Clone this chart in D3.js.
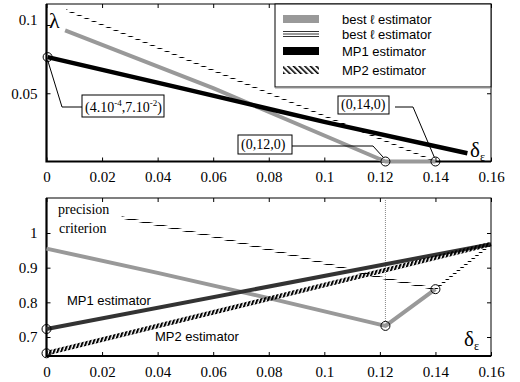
<!DOCTYPE html>
<meta charset="utf-8">
<style>
body { margin: 0; background: #fff; }
.lab { font-family: "Liberation Sans", Arial, sans-serif; font-size: 13px; }
.ser { font-family: "Liberation Serif", serif; }
</style>
<svg width="520" height="382"></svg>
<script src="https://cdn.jsdelivr.net/npm/d3@7/dist/d3.min.js"></script>
<script>

// x values are delta_epsilon
var xTicks = [0, 0.02, 0.04, 0.06, 0.08, 0.1, 0.12, 0.14, 0.16];
var topTicks = [0.05, 0.1];
var botTicks = [0.7, 0.8, 0.9, 1];

// top panel (lambda)
var topBestL1 = [[0.0067, 0.096], [0.06, 0.0537], [0.122, 0], [0.14, 0]];
var topBestL2 = [[0.007, 0.111], [0.14, 0]];
var topMP1 = [[0.0004, 0.0765], [0.05, 0.053], [0.1, 0.029], [0.1515, 0.006]];
var topMarks = [[0.0004, 0.0765], [0.122, 0], [0.14, 0]];

// bottom panel (precision criterion)
var botBestL1 = [[0, 0.955], [0.04, 0.885], [0.08, 0.812], [0.122, 0.732], [0.14, 0.838]];
var botBestL2 = [[0.027, 1.045], [0.06, 0.99], [0.09, 0.933], [0.12, 0.872], [0.14, 0.838], [0.16, 0.968]];
var botMP1 = [[0, 0.723], [0.16, 0.968]];
var botMP2 = [[0, 0.653], [0.16, 0.968]];
var botMarks = [[0, 0.723], [0, 0.653], [0.122, 0.732], [0.14, 0.838]];

var legendNames = ["best \u2113 estimator", "best \u2113 estimator", "MP1 estimator", "MP2 estimator"];

var svg = d3.select("svg");
var defs = svg.append("defs");

defs.append("pattern").attr("id", "hh")
    .attr("patternUnits", "userSpaceOnUse").attr("width", 4).attr("height", 3)
  .append("rect").attr("width", 4).attr("height", 1).attr("fill", "#000");

defs.append("pattern").attr("id", "hd")
    .attr("patternUnits", "userSpaceOnUse").attr("width", 3.4).attr("height", 3.4)
    .attr("patternTransform", "rotate(20)")
  .append("rect").attr("width", 2).attr("height", 3.4).attr("fill", "#000");

defs.append("pattern").attr("id", "hl")
    .attr("patternUnits", "userSpaceOnUse").attr("width", 4).attr("height", 4)
    .attr("patternTransform", "rotate(-45)")
  .append("rect").attr("width", 1.6).attr("height", 4).attr("fill", "#000");

var left = 46.5, right = 491;
var x = d3.scaleLinear().domain([0, 0.16]).range([left, right]);
var yT = d3.scaleLinear().domain([0, 0.1]).range([161.5, 25]);
var yB = d3.scaleLinear().domain([0.7, 1]).range([337, 233]);

function serifTicks(sel) {
  sel.attr("font-family", null).attr("font-size", null);
  sel.selectAll(".domain").remove();
  sel.selectAll(".tick text").attr("font-family", "Liberation Serif, serif").attr("font-size", 15).attr("fill", "#000");
}

function frame(y, top, bottom, yticks) {
  var g = svg.append("g");
  g.append("g").attr("transform", "translate(0," + bottom + ")")
      .call(d3.axisBottom(x).tickValues(xTicks).tickSizeInner(-4).tickSizeOuter(0).tickPadding(10)
        .tickFormat(function(d) { return d === 0 ? "0" : String(+d.toFixed(2)); }))
      .call(serifTicks);
  g.append("g").attr("transform", "translate(0," + top + ")")
      .call(d3.axisTop(x).tickValues(xTicks).tickSizeInner(-4).tickSizeOuter(0).tickFormat(""))
      .call(serifTicks);
  g.append("g").attr("class", "yaxis").attr("transform", "translate(" + left + ",0)")
      .call(d3.axisLeft(y).tickValues(yticks).tickSizeInner(-4).tickSizeOuter(0).tickPadding(9)
        .tickFormat(function(d) { return String(d); }))
      .call(serifTicks);
  g.append("g").attr("transform", "translate(" + right + ",0)")
      .call(d3.axisRight(y).tickValues(yticks).tickSizeInner(-4).tickSizeOuter(0).tickFormat(""))
      .call(serifTicks);
  g.append("rect").attr("x", left).attr("y", top).attr("width", right - left).attr("height", bottom - top)
      .attr("fill", "none").attr("stroke", "#000").attr("stroke-width", 1);
  g.append("path").attr("d", "M" + left + "," + top + "V" + bottom + "H" + right)
      .attr("fill", "none").attr("stroke", "#000").attr("stroke-width", 2.2);
  return g;
}

function draw(g, y, data, stroke, w) {
  var line = d3.line().x(function(d) { return x(d[0]); }).y(function(d) { return y(d[1]); });
  g.append("path").attr("d", line(data)).attr("fill", "none")
      .attr("stroke", stroke).attr("stroke-width", w).attr("stroke-linejoin", "round");
}

function marks(g, y, data) {
  g.selectAll(null).data(data).enter().append("circle")
      .attr("cx", function(d) { return x(d[0]); }).attr("cy", function(d) { return y(d[1]); })
      .attr("r", 4.5).attr("fill", "none").attr("stroke", "#000").attr("stroke-width", 1);
}

function delta(g, px, py) {
  var t = g.append("text").attr("class", "ser").attr("x", px).attr("y", py).attr("font-size", 21);
  t.append("tspan").text("\u03b4");
  t.append("tspan").attr("font-size", 12).attr("dy", 4).text("\u03b5");
}

// ---------- top panel ----------
var gt = frame(yT, 4, 161.5, topTicks);
gt.select(".yaxis").selectAll(".tick text").filter(function(d) { return d === 0.1; }).attr("dy", "-0.05em");
draw(gt, yT, topBestL2, "url(#hh)", 1.8);
draw(gt, yT, topBestL1, "#999", 4);
draw(gt, yT, topMP1, "#000", 4.5);
marks(gt, yT, topMarks);

gt.append("text").attr("class", "ser").attr("x", 49).attr("y", 28).attr("font-size", 22).text("\u03bb");
delta(gt, 470, 157);

function box(g, bx, by, bw, bh, parts) {
  g.append("rect").attr("x", bx).attr("y", by).attr("width", bw).attr("height", bh)
      .attr("fill", "#fff").attr("stroke", "#000").attr("stroke-width", 1);
  var t = g.append("text").attr("class", "ser").attr("x", bx + 3).attr("y", by + bh - 5).attr("font-size", 14);
  parts.forEach(function(p) {
    if (p[1]) t.append("tspan").attr("font-size", 9).attr("dy", -6).text(p[0]);
    else t.append("tspan").attr("dy", p[2] || 0).text(p[0]);
  });
}

// leaders
var p0 = [x(topMarks[0][0]), yT(topMarks[0][1])];
gt.append("path").attr("d", "M" + p0[0] + "," + (p0[1] + 3) + "L62,107H82")
    .attr("fill", "none").attr("stroke", "#000").attr("stroke-width", 1);
box(gt, 82, 95, 82, 22, [["(4.10"], ["-4", 1], [",7.10", 0, 6], ["-2", 1], [")", 0, 6]]);

var p1 = [x(topMarks[1][0]), yT(topMarks[1][1])];
gt.append("path").attr("d", "M292,146H373L" + (p1[0] - 2) + "," + (p1[1] - 4))
    .attr("fill", "none").attr("stroke", "#000").attr("stroke-width", 1);
box(gt, 238, 135, 54, 19, [["(0,12,0)"]]);

var p2 = [x(topMarks[2][0]), yT(topMarks[2][1])];
gt.append("path").attr("d", "M395,107H413L" + (p2[0] - 1) + "," + (p2[1] - 4))
    .attr("fill", "none").attr("stroke", "#000").attr("stroke-width", 1);
box(gt, 338, 96, 51, 18, [["(0,14,0)"]]);

// legend
var lg = gt.append("g");
lg.append("rect").attr("x", 275).attr("y", 4).attr("width", 216).attr("height", 83)
    .attr("fill", "#fff").attr("stroke", "#000").attr("stroke-width", 1);
lg.append("line").attr("x1", 275).attr("x2", 491).attr("y1", 88).attr("y2", 88).attr("stroke", "#999");
var rowY = [19, 34, 51, 70];
lg.append("rect").attr("x", 283).attr("y", rowY[0] - 4).attr("width", 36).attr("height", 8).attr("fill", "#999");
[-2.5, 0, 2.5].forEach(function(o) {
  lg.append("line").attr("x1", 283).attr("x2", 319).attr("y1", rowY[1] + o).attr("y2", rowY[1] + o)
      .attr("stroke", "#000").attr("stroke-width", 0.8);
});
lg.append("rect").attr("x", 283).attr("y", rowY[2] - 4).attr("width", 36).attr("height", 8).attr("fill", "#000");
lg.append("rect").attr("x", 283).attr("y", rowY[3] - 4).attr("width", 36).attr("height", 8).attr("fill", "url(#hl)");
lg.selectAll(null).data(legendNames).enter().append("text")
    .attr("class", "lab").attr("x", 342).attr("y", function(d, i) { return rowY[i] + 5; })
    .text(function(d) { return d; });

// ---------- bottom panel ----------
var gb = frame(yB, 198, 356, botTicks);
gb.append("line").attr("x1", x(0.122)).attr("x2", x(0.122)).attr("y1", 198).attr("y2", yB(0.732) - 4)
    .attr("stroke", "#888").attr("stroke-width", 1).attr("stroke-dasharray", "1,1");
draw(gb, yB, botBestL2, "url(#hh)", 2.2);
draw(gb, yB, botBestL1, "#999", 4);
draw(gb, yB, botMP1, "#333", 4);
draw(gb, yB, botMP2, "url(#hd)", 4.5);
marks(gb, yB, botMarks);

gb.append("text").attr("class", "ser").attr("x", 58).attr("y", 214).attr("font-size", 14).text("precision");
gb.append("text").attr("class", "ser").attr("x", 59).attr("y", 233).attr("font-size", 14).text("criterion");
gb.append("text").attr("class", "lab").attr("x", 67).attr("y", 305).attr("font-size", 14).text("MP1 estimator");
gb.append("text").attr("class", "lab").attr("x", 155).attr("y", 341).attr("font-size", 14).text("MP2 estimator");
delta(gb, 464, 346);

</script>
